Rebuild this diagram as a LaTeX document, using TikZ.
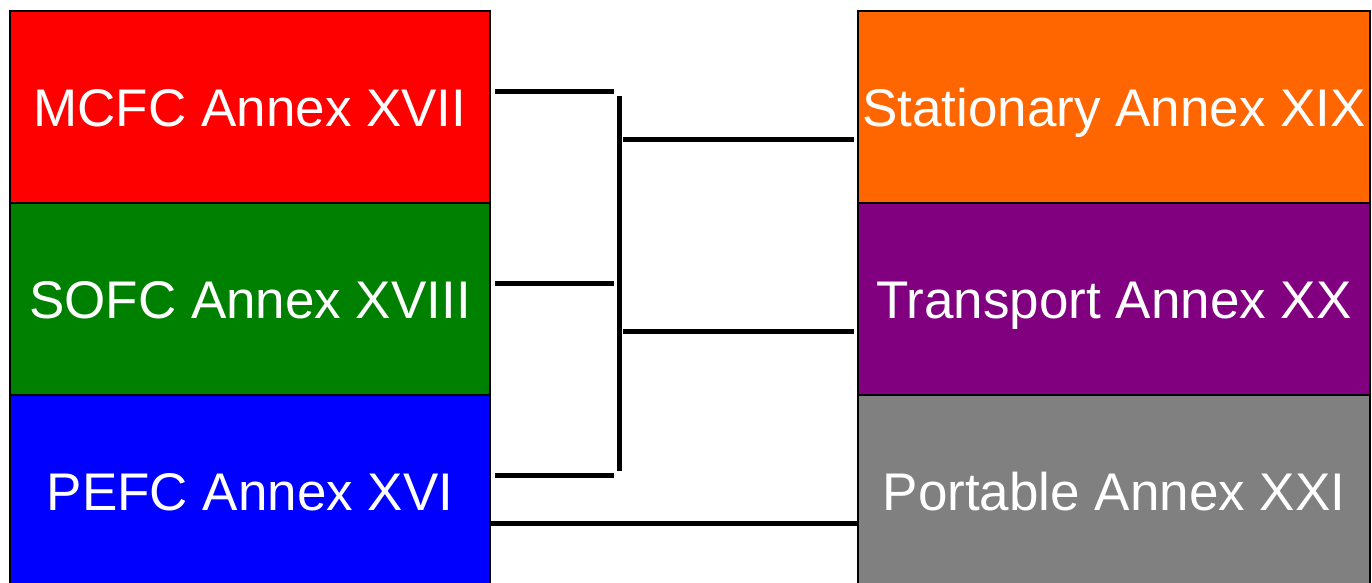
\documentclass[tikz,border=0pt]{standalone}
\usepackage{fontspec}
\setmainfont{Liberation Sans}
\definecolor{cRed}{HTML}{FF0000}
\definecolor{cGreen}{HTML}{008000}
\definecolor{cBlue}{HTML}{0000FF}
\definecolor{cOrange}{HTML}{FF6600}
\definecolor{cPurple}{HTML}{800080}
\definecolor{cGray}{HTML}{808080}
\tikzset{
  annex/.style={draw=black, line width=2pt, rectangle, inner sep=0pt,
    minimum height=192pt, text=white, text height=38pt, text depth=0pt,
    font=\fontsize{53}{63}\selectfont},
  leftbox/.style={annex, minimum width=480pt},
  rightbox/.style={annex, minimum width=512pt},
  link/.style={line width=5pt, line cap=butt, black}
}
\begin{document}
\begin{tikzpicture}[x=1pt,y=-1pt]
\clip (0,0) rectangle (1372,582);
\useasboundingbox (0,0) rectangle (1372,582);
\fill[white] (0,0) rectangle (1372,582);
% left boxes
\node[leftbox, fill=cRed]   (mcfc) at (250,107) {MCFC Annex XVII};
\node[leftbox, fill=cGreen] (sofc) at (250,299) {SOFC Annex XVIII};
\node[leftbox, fill=cBlue]  (pefc) at (250,491) {PEFC Annex XVI};
% right boxes
\node[rightbox, fill=cOrange] (stat)  at (1114,107) {Stationary Annex XIX};
\node[rightbox, fill=cPurple] (trans) at (1114,299) {Transport Annex XX};
\node[rightbox, fill=cGray]   (port)  at (1114,491) {Portable Annex XXI};
% bracket coordinates
\coordinate (m1) at (495,91);  \coordinate (m2) at (614,91);
\coordinate (s1) at (495,283); \coordinate (s2) at (614,283);
\coordinate (p1) at (495,475); \coordinate (p2) at (614,475);
\coordinate (vt) at (619,96);  \coordinate (vb) at (619,471);
\coordinate (st1) at (623,139); \coordinate (st2) at (854,139);
\coordinate (tr1) at (623,331); \coordinate (tr2) at (854,331);
\draw[link] (m1) -- (m2);
\draw[link] (s1) -- (s2);
\draw[link] (p1) -- (p2);
\draw[link] (vt) -- (vb);
\draw[link] (st1) -- (st2);
\draw[link] (tr1) -- (tr2);
\draw[link] (pefc.east |- 0,523) -- (port.west |- 0,523);
\end{tikzpicture}
\end{document}
